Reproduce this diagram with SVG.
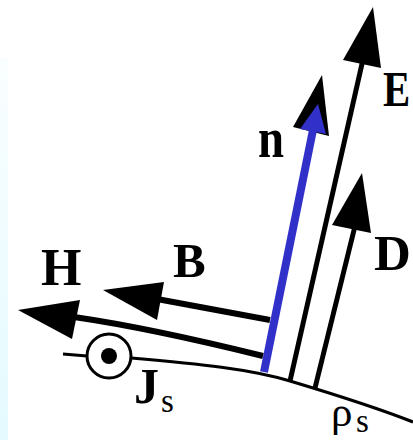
<svg xmlns="http://www.w3.org/2000/svg" width="413" height="440" viewBox="0 0 413 440">
  <defs>
    <linearGradient id="strip" x1="0" y1="0" x2="0" y2="1">
      <stop offset="0" stop-color="#FAFEFF"/>
      <stop offset="1" stop-color="#E4FAFF"/>
    </linearGradient>
  </defs>
  <style>
    .lbl { font-family: "Liberation Serif", "Times New Roman", serif; font-weight: bold; fill: #000; }
    .sub { font-family: "Liberation Serif", "Times New Roman", serif; font-weight: normal; fill: #000; }
    .shaft { stroke: #000; stroke-width: 5; fill: none; stroke-linecap: butt; }
    .hshaft { stroke: #000; stroke-width: 6; fill: none; }
    .head { fill: #000; stroke: none; }
    .surf { stroke: #000; stroke-width: 3.2; fill: none; }
    .blue { fill: #3131C9; }
  </style>
  <rect x="0" y="0" width="413" height="440" fill="#FFFFFF"/>
  <rect x="0" y="58" width="8" height="382" fill="url(#strip)"/>

  <g id="surface">
    <path class="surf" d="M63,354 L87,356"/>
    <path class="surf" d="M131,358 C200,364 250,369 290,381 S370,405 413,422"/>
  </g>

  <g id="Js">
    <circle cx="109" cy="356" r="22" fill="#FFFFFF" stroke="#000" stroke-width="3"/>
    <circle cx="109" cy="356" r="8" fill="#000"/>
    <text class="lbl" x="134" y="403" font-size="50">J</text>
    <text class="sub" x="161" y="412" font-size="33">s</text>
  </g>

  <g id="rho">
    <text class="sub" x="331" y="426" font-size="43">ρ</text>
    <text class="sub" x="356" y="432" font-size="33">s</text>
  </g>

  <g id="connectors">
    <g id="E-vector">
      <path class="shaft" d="M290,381 L364,55"/>
      <polygon class="head" points="373,7 343,60 381,68"/>
    </g>
    <g id="D-vector">
      <path class="shaft" d="M315,388 L356,222"/>
      <polygon class="head" points="362,173 332,225 371,233"/>
    </g>
    <g id="n-vector">
      <polygon class="head" points="322,75 293,127 329,136"/>
      <path d="M264,372 L314,125" stroke="#3131C9" stroke-width="8" fill="none"/>
      <polygon class="blue" points="318,104 300,129 326,134"/>
    </g>
    <g id="H-vector">
      <path class="hshaft" d="M74,317 Q150,328 263,356"/>
      <polygon class="head" points="18,310 80,300 72,339"/>
    </g>
    <g id="B-vector">
      <path class="hshaft" d="M157,299 L270,320"/>
      <polygon class="head" points="103,290 164,282 157,320"/>
    </g>
  </g>

  <g id="labels">
    <text class="lbl" x="0" y="0" font-size="51" transform="matrix(0.8 0 0 1 383 106)">E</text>
    <text class="lbl" x="258" y="157" font-size="57" textLength="26" lengthAdjust="spacingAndGlyphs">n</text>
    <text class="lbl" x="374" y="270" font-size="51">D</text>
    <text class="lbl" x="41" y="285" font-size="52">H</text>
    <text class="lbl" x="173" y="277" font-size="49">B</text>
  </g>
</svg>
